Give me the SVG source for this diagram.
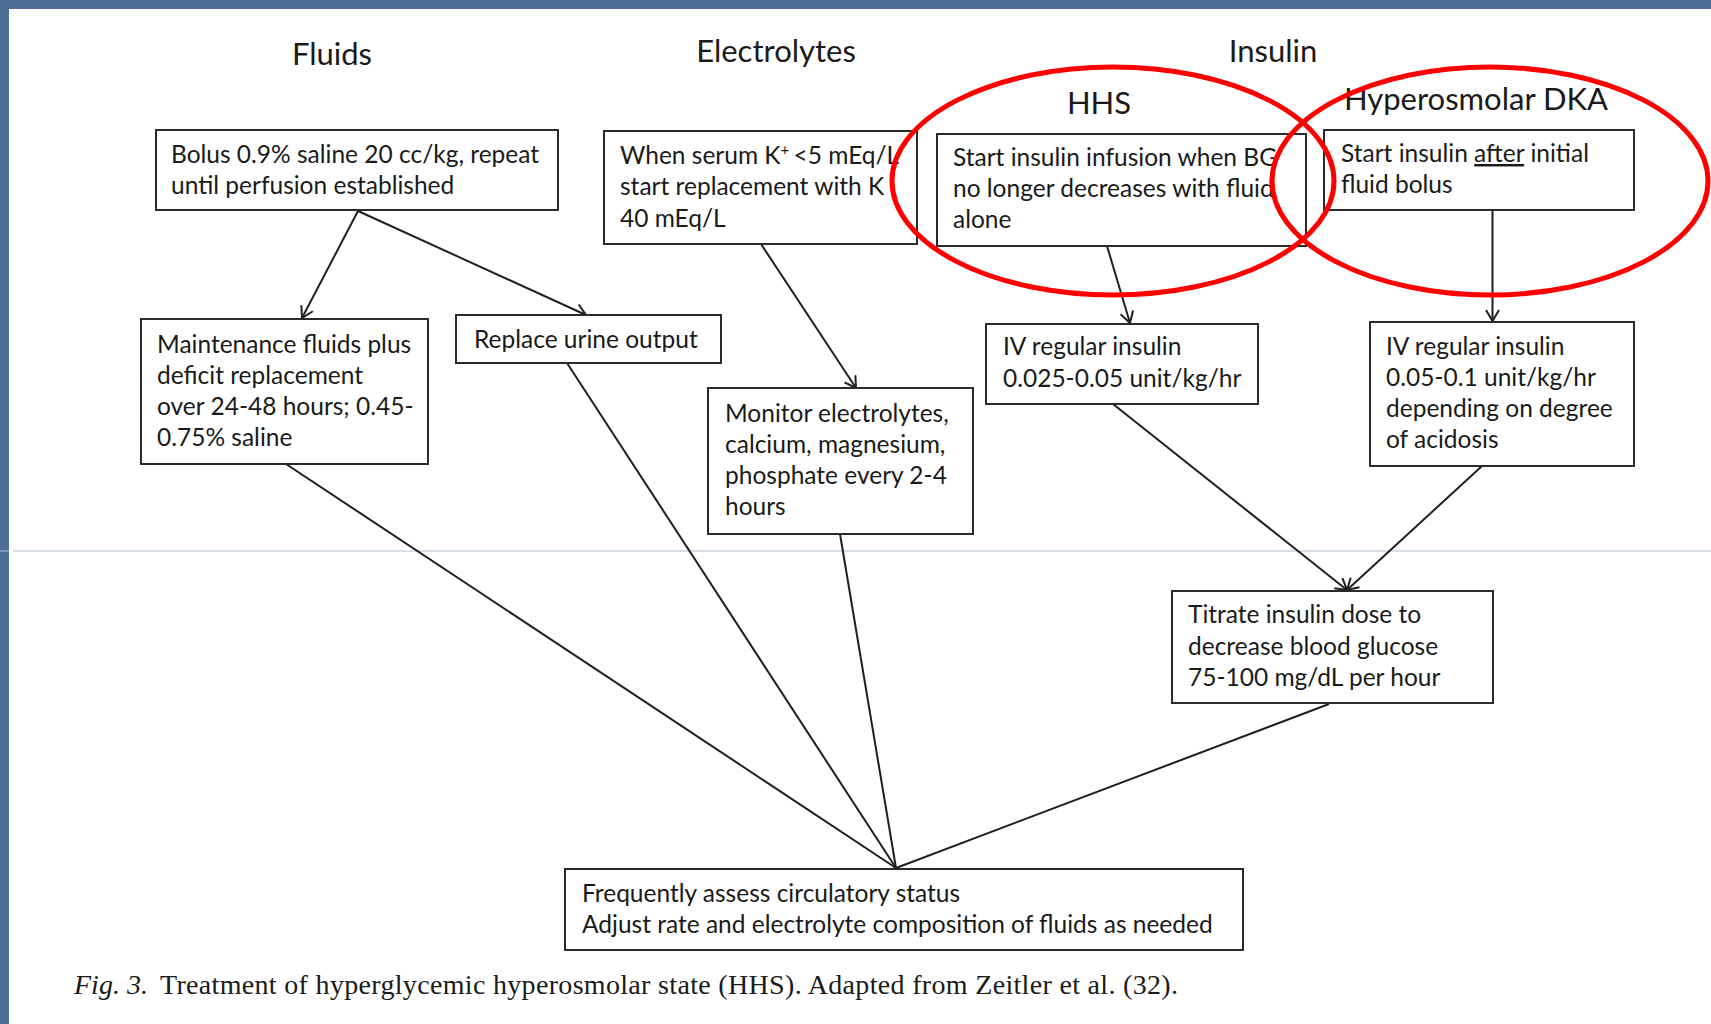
<svg xmlns="http://www.w3.org/2000/svg" width="1711" height="1024" viewBox="0 0 1711 1024">
  <style>
    .box { fill: #ffffff; stroke: #2b2b2b; stroke-width: 2; }
    .txt { font-family: Lato, "Open Sans", "Liberation Sans", sans-serif; font-size: 24.5px; fill: #1a1a1a; }
    .head { font-family: Lato, "Open Sans", "Liberation Sans", sans-serif; font-size: 31px; fill: #1a1a1a; text-anchor: middle; }
    .edge { fill: none; stroke: #1f1f1f; stroke-width: 2; }
    .ring { fill: none; stroke: #ff0000; stroke-width: 5; }
    .cap { font-family: "Liberation Serif", "Times New Roman", serif; font-size: 28px; fill: #1a1a1a; }
  </style>
  <defs>
    <marker id="arrow" markerUnits="userSpaceOnUse" markerWidth="26" markerHeight="26" viewBox="-13 -13 26 26" refX="0" refY="0" orient="auto">
      <path d="M-11,-6.5 L0,0 L-11,6.5" fill="none" stroke="#1f1f1f" stroke-width="2"/>
    </marker>
  </defs>

  <!-- page and slide frame -->
  <rect x="0" y="0" width="1711" height="1024" fill="#ffffff"/>
  <rect x="0" y="0" width="1711" height="9" fill="#4e6e96"/>
  <rect x="0" y="0" width="9" height="1024" fill="#4e6e96"/>
  <line x1="0" y1="551" x2="9" y2="551" stroke="#8da3bf" stroke-width="1.5"/>
  <line x1="13" y1="551" x2="1711" y2="551" stroke="#c9d3df" stroke-width="1.5"/>

  <!-- column headings -->
  <g id="headings">
    <text class="head" x="332" y="65">Fluids</text>
    <text class="head" x="776" y="62">Electrolytes</text>
    <text class="head" x="1273" y="62">Insulin</text>
    <text class="head" x="1099" y="114">HHS</text>
    <text class="head" x="1476" y="110">Hyperosmolar DKA</text>
  </g>

  <!-- connectors -->
  <g id="connectors">
    <path class="edge" d="M358,211 L302,318" marker-end="url(#arrow)"/>
    <path class="edge" d="M358,211 L586,315" marker-end="url(#arrow)"/>
    <path class="edge" d="M761,244 L856,388" marker-end="url(#arrow)"/>
    <path class="edge" d="M1107,246 L1130,323" marker-end="url(#arrow)"/>
    <path class="edge" d="M1492.5,210 L1492.5,321" marker-end="url(#arrow)"/>
    <path class="edge" d="M1113,404 L1347,590" marker-end="url(#arrow)"/>
    <path class="edge" d="M1482,466 L1347,590" marker-end="url(#arrow)"/>
    <path class="edge" d="M286,464 L896,868"/>
    <path class="edge" d="M567,363 L896,868"/>
    <path class="edge" d="M840,534 L896,868"/>
    <path class="edge" d="M1329,704 L896,868"/>
  </g>

  <g id="bolus">
    <rect class="box" x="156" y="130" width="402" height="80"/>
    <text class="txt" x="171" y="163">Bolus 0.9% saline 20 cc/kg, repeat</text>
    <text class="txt" x="171" y="194">until perfusion established</text>
  </g>

  <g id="maintenance">
    <rect class="box" x="141" y="319" width="287" height="145"/>
    <text class="txt" x="157" y="353">Maintenance fluids plus</text>
    <text class="txt" x="157" y="384">deficit replacement</text>
    <text class="txt" x="157" y="415">over 24-48 hours; 0.45-</text>
    <text class="txt" x="157" y="446">0.75% saline</text>
  </g>

  <g id="urine">
    <rect class="box" x="456" y="315" width="265" height="48"/>
    <text class="txt" x="474" y="348">Replace urine output</text>
  </g>

  <g id="potassium">
    <rect class="box" x="604" y="131" width="313" height="113"/>
    <text class="txt" x="620" y="164">When serum K<tspan font-size="15" dy="-9">+</tspan><tspan dy="9" dx="-2"> &lt;5 mEq/L</tspan></text>
    <text class="txt" x="620" y="195">start replacement with K</text>
    <text class="txt" x="620" y="227">40 mEq/L</text>
  </g>

  <g id="monitor">
    <rect class="box" x="708" y="388" width="265" height="146"/>
    <text class="txt" x="725" y="422">Monitor electrolytes,</text>
    <text class="txt" x="725" y="453">calcium, magnesium,</text>
    <text class="txt" x="725" y="484">phosphate every 2-4</text>
    <text class="txt" x="725" y="515">hours</text>
  </g>

  <g id="hhs-start">
    <rect class="box" x="937" y="134" width="369" height="112"/>
    <text class="txt" x="953" y="166">Start insulin infusion when BG</text>
    <text class="txt" x="953" y="197">no longer decreases with fluid</text>
    <text class="txt" x="953" y="228">alone</text>
  </g>

  <g id="dka-start">
    <rect class="box" x="1324" y="130" width="310" height="80"/>
    <text class="txt" x="1341" y="162">Start insulin <tspan text-decoration="underline">after</tspan> initial</text>
    <text class="txt" x="1341" y="193">fluid bolus</text>
  </g>

  <g id="hhs-rate">
    <rect class="box" x="986" y="324" width="272" height="80"/>
    <text class="txt" x="1003" y="355">IV regular insulin</text>
    <text class="txt" x="1003" y="387">0.025-0.05 unit/kg/hr</text>
  </g>

  <g id="dka-rate">
    <rect class="box" x="1370" y="322" width="264" height="144"/>
    <text class="txt" x="1386" y="355">IV regular insulin</text>
    <text class="txt" x="1386" y="386">0.05-0.1 unit/kg/hr</text>
    <text class="txt" x="1386" y="417">depending on degree</text>
    <text class="txt" x="1386" y="448">of acidosis</text>
  </g>

  <g id="titrate">
    <rect class="box" x="1172" y="591" width="321" height="112"/>
    <text class="txt" x="1188" y="623">Titrate insulin dose to</text>
    <text class="txt" x="1188" y="655">decrease blood glucose</text>
    <text class="txt" x="1188" y="686">75-100 mg/dL per hour</text>
  </g>

  <g id="assess">
    <rect class="box" x="565" y="869" width="678" height="81"/>
    <text class="txt" x="582" y="902">Frequently assess circulatory status</text>
    <text class="txt" x="582" y="933">Adjust rate and electrolyte composition of fluids as needed</text>
  </g>

  <!-- highlight rings -->
  <g id="highlights">
    <ellipse class="ring" cx="1113" cy="181" rx="221" ry="114"/>
    <ellipse class="ring" cx="1490" cy="181" rx="218" ry="114"/>
  </g>

  <!-- figure caption -->
  <text class="cap" x="74" y="994" font-style="italic">Fig. 3.</text>
  <text class="cap" x="160" y="994" textLength="1018">Treatment of hyperglycemic hyperosmolar state (HHS). Adapted from Zeitler et al. (32).</text>
</svg>
